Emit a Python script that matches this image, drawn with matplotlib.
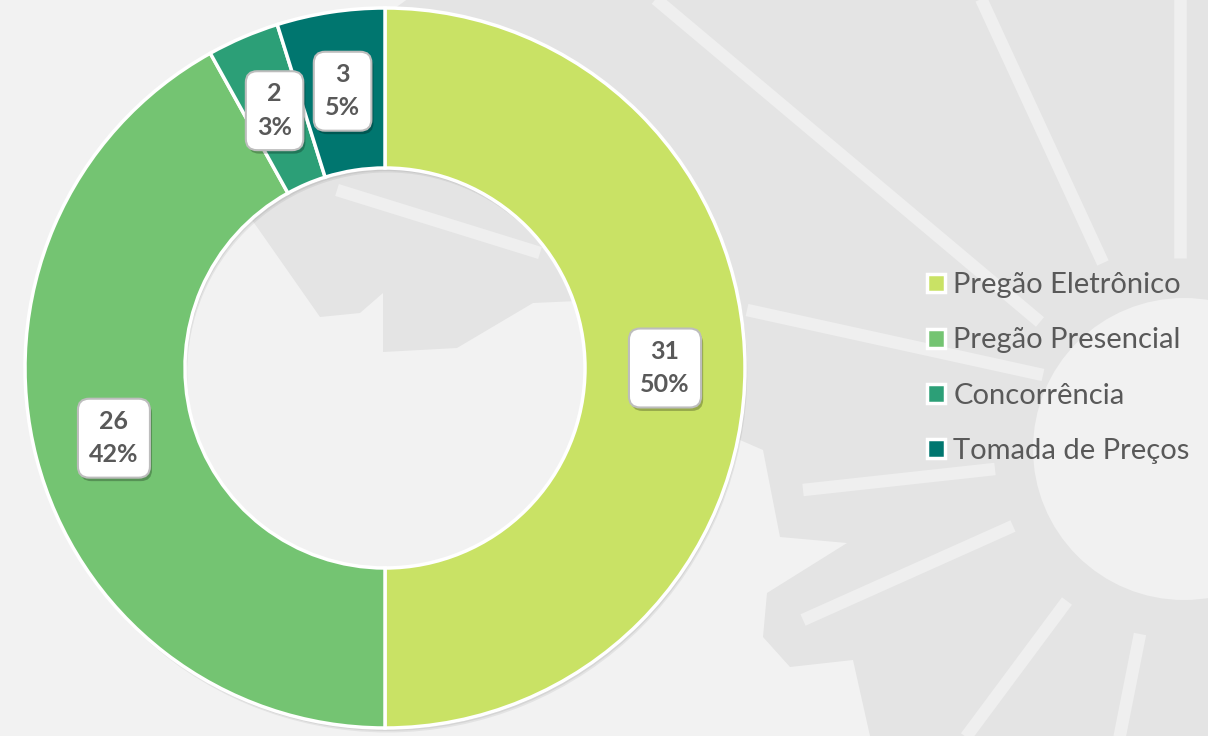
import matplotlib.pyplot as plt
import matplotlib.patheffects as pe
from matplotlib.patches import Polygon, Circle, Wedge
import numpy as np

# dados
categorias = ['Pregão Eletrônico', 'Pregão Presencial', 'Concorrência', 'Tomada de Preços']
valores = [31, 26, 2, 3]
cores = ['#c9e265', '#74c472', '#2c9f77', '#00766f']

W, H = 1208, 736
fig = plt.figure(figsize=(W / 100, H / 100), dpi=100)
fig.patch.set_facecolor('#f2f2f2')
ax = fig.add_axes([0, 0, 1, 1])
ax.set_facecolor('#f2f2f2')

def py(y):
    # coordenada de pixel (topo=0) -> eixo y
    return H - y

# marca d'agua ao fundo (aproximada)
fundo = [(200, 150), (257, 227), (320, 317), (360, 313), (383, 293), (383, 352),
         (457, 348), (533, 303), (600, 300), (700, 380), (740, 440), (763, 450),
         (780, 537), (847, 543), (767, 593), (763, 637), (790, 667), (853, 660),
         (870, 736), (1210, 736), (1210, -10), (420, -10)]
ax.add_patch(Polygon([(x, py(y)) for x, y in fundo], closed=True,
                     facecolor='#e4e4e4', edgecolor='none', zorder=0))
ax.add_patch(Circle((1184, py(449)), 151, facecolor='#f1f1f1', edgecolor='none', zorder=0.5))
raios = [((645, -10), (1040, 322)), ((977, -10), (1103, 263)), ((1180, -10), (1180, 258)),
         ((747, 310), (1043, 375)), ((803, 490), (995, 469)), ((803, 620), (1013, 526)),
         ((1067, 601), (960, 745)), ((1140, 634), (1118, 745)), ((337, 190), (540, 253))]
for (x0, y0), (x1, y1) in raios:
    ax.plot([x0, x1], [py(y0), py(y1)], color='#efefef', lw=9,
            solid_capstyle='butt', zorder=0.6)

cx, cy = 385, py(368)
r_ext, largura = 360, 160

# sombra suave do anel
for i, a in enumerate([0.06, 0.06, 0.06]):
    d = 1.5 * (i + 1)
    ax.add_patch(Wedge((cx + d * 0.5, cy - d), r_ext, 0, 360, width=largura,
                       facecolor='black', alpha=a, edgecolor='none', zorder=1))

fatias, _ = ax.pie(valores, colors=cores, startangle=90, counterclock=False,
                   radius=r_ext, center=(cx, cy),
                   wedgeprops=dict(width=largura, edgecolor='white', linewidth=2.5))
for w in fatias:
    w.set_zorder(2)

total = sum(valores)
for w, v in zip(fatias, valores):
    ang = np.deg2rad((w.theta1 + w.theta2) / 2)
    r = r_ext - largura / 2
    x = cx + r * np.cos(ang)
    y = cy + r * np.sin(ang)
    t = ax.text(x, y, f'{v}\n{round(v / total * 100)}%', ha='center', va='center',
                fontsize=18, fontweight='bold', color='#595959', family='Lato',
                linespacing=1.55, zorder=5,
                bbox=dict(boxstyle='round,pad=0.45,rounding_size=0.45',
                          facecolor='white', edgecolor='#bdbdbd', linewidth=1.5))
    t.get_bbox_patch().set_path_effects(
        [pe.SimplePatchShadow(offset=(1.5, -2.5), shadow_rgbFace='black', alpha=0.25),
         pe.Normal()])

leg = ax.legend(fatias, categorias, loc='center left',
                bbox_to_anchor=(912 / W, 1 - 368 / H), frameon=False,
                prop=dict(family='Lato', size=21), labelcolor='#595959',
                handlelength=0.62, handleheight=0.62, handletextpad=0.3,
                labelspacing=1.0, borderpad=0)

ax.set_xlim(0, W)
ax.set_ylim(0, H)
ax.set_aspect('equal')
ax.axis('off')

fig.savefig('out.png', dpi=100, facecolor=fig.get_facecolor())
